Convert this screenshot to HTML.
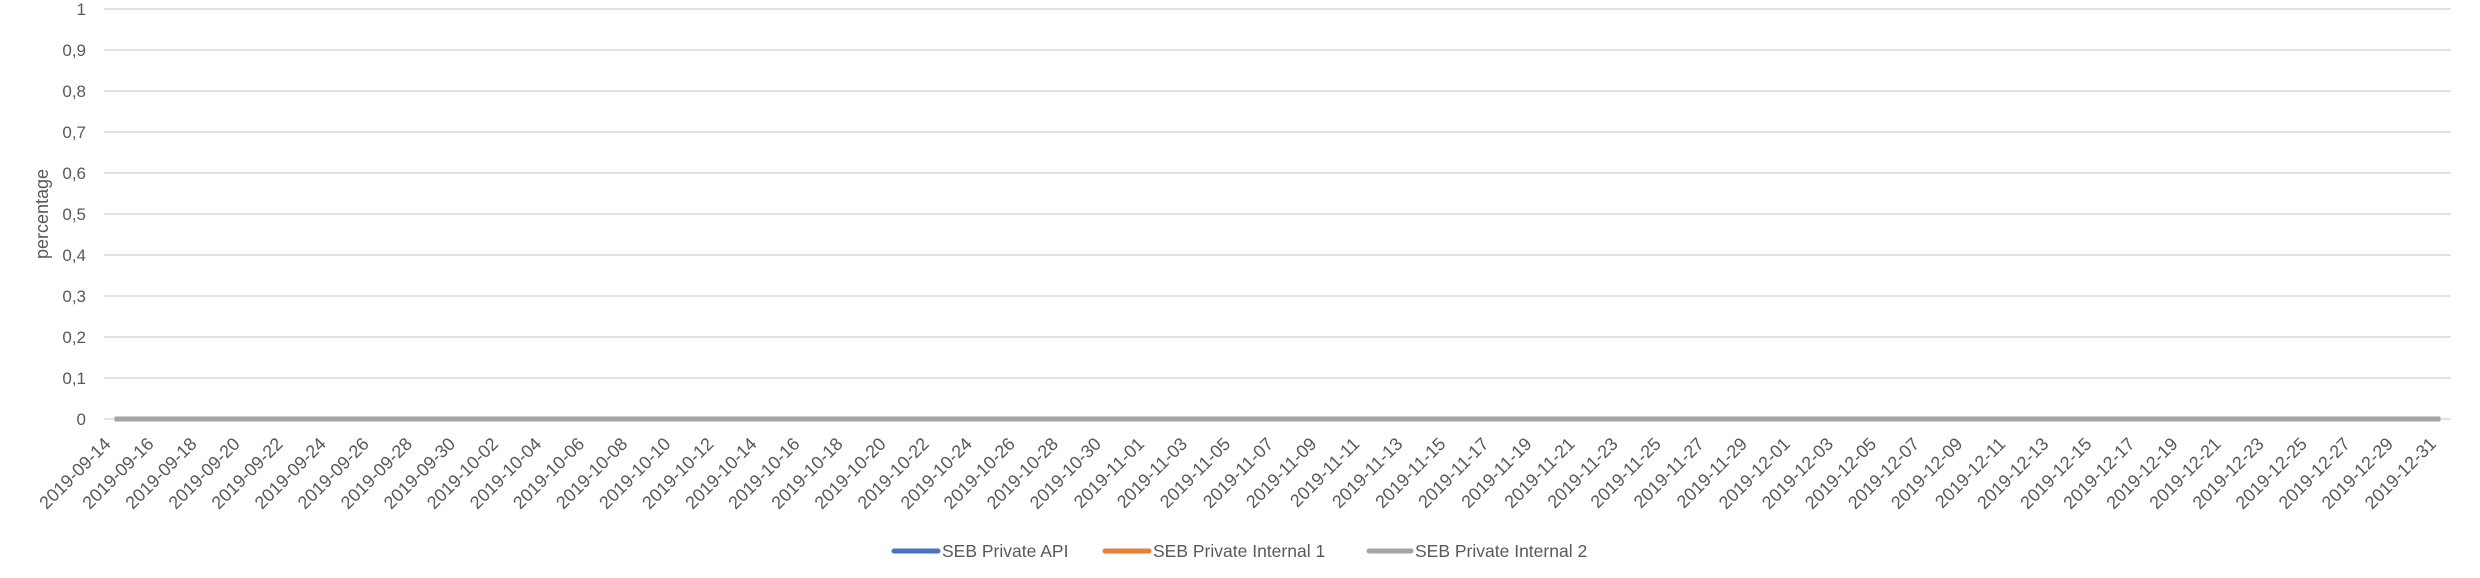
<!DOCTYPE html>
<html><head><meta charset="utf-8"><style>
body{margin:0;background:#fff;}
svg{display:block;font-family:"Liberation Sans",Calibri,sans-serif;}
</style></head><body>
<svg id="chart" width="2480" height="578" xmlns="http://www.w3.org/2000/svg">
<g id="grid"></g>
<g id="yticks"></g>
<g id="xticks"></g>
<g id="series"></g>
<text x="0" y="0" transform="translate(48,214) rotate(-90)" text-anchor="middle" font-size="18" fill="#595959">percentage</text>
<g font-size="17.5" fill="#595959">
<g><line x1="894" y1="551" x2="938" y2="551" stroke="#4472c4" stroke-width="5" stroke-linecap="round"/><text x="942" y="557">SEB Private API</text></g>
<g><line x1="1105" y1="551" x2="1149" y2="551" stroke="#ed7d31" stroke-width="5" stroke-linecap="round"/><text x="1153" y="557">SEB Private Internal 1</text></g>
<g><line x1="1369" y1="551" x2="1411" y2="551" stroke="#a5a5a5" stroke-width="5" stroke-linecap="round"/><text x="1415" y="557">SEB Private Internal 2</text></g>
</g>
</svg>
<script>
const categories=[];
(function(){const d=new Date(Date.UTC(2019,8,14));const e=new Date(Date.UTC(2019,11,31));while(d<=e){categories.push(d.toISOString().slice(0,10));d.setUTCDate(d.getUTCDate()+1);}})();
const seriesApi=categories.map(()=>0);
const seriesInternal1=categories.map(()=>0);
const seriesInternal2=categories.map(()=>0);
const yTicks=[0,0.1,0.2,0.3,0.4,0.5,0.6,0.7,0.8,0.9,1];
const yTickLabels=["0","0,1","0,2","0,3","0,4","0,5","0,6","0,7","0,8","0,9","1"];

const NS="http://www.w3.org/2000/svg";
const X0=104,X1=2451,Y0=419,Y1=9;
const bw=(X1-X0)/categories.length;
const xs=i=>X0+bw*(i+0.5);
const ys=v=>Y0-(v-0)/(1-0)*(Y0-Y1);
function mk(t,a,p){const e=document.createElementNS(NS,t);for(const k in a)e.setAttribute(k,a[k]);p.appendChild(e);return e;}
const grid=document.getElementById('grid'),yt=document.getElementById('yticks'),xt=document.getElementById('xticks'),sg=document.getElementById('series');
yTicks.forEach((v,i)=>{
 const l=mk('line',{x1:X0,x2:X1,y1:ys(v),y2:ys(v),stroke:'#d9d9d9','stroke-width':1.5},grid);
 
 
 const t=mk('text',{x:86,y:ys(v)+6,'text-anchor':'end','font-size':17,fill:'#595959'},yt);
 t.textContent=yTickLabels[i];
 
 
});
categories.forEach((c,i)=>{
 if(i%2)return;
 const x=xs(i)-3,y=445;
 const t=mk('text',{x:x,y:y,'text-anchor':'end','font-size':18,fill:'#595959',transform:`rotate(-45 ${x} ${y})`},xt);
 t.textContent=c;
 
 
});
[[seriesApi,'#4472c4','series-api'],[seriesInternal1,'#ed7d31','series-internal-1'],[seriesInternal2,'#a5a5a5','series-internal-2']].forEach(([d,col,n])=>{
 const p=mk('polyline',{points:d.map((v,i)=>xs(i)+','+ys(v)).join(' '),fill:'none',stroke:col,'stroke-width':4.5},sg);
 
 
});
</script>
</body></html>
